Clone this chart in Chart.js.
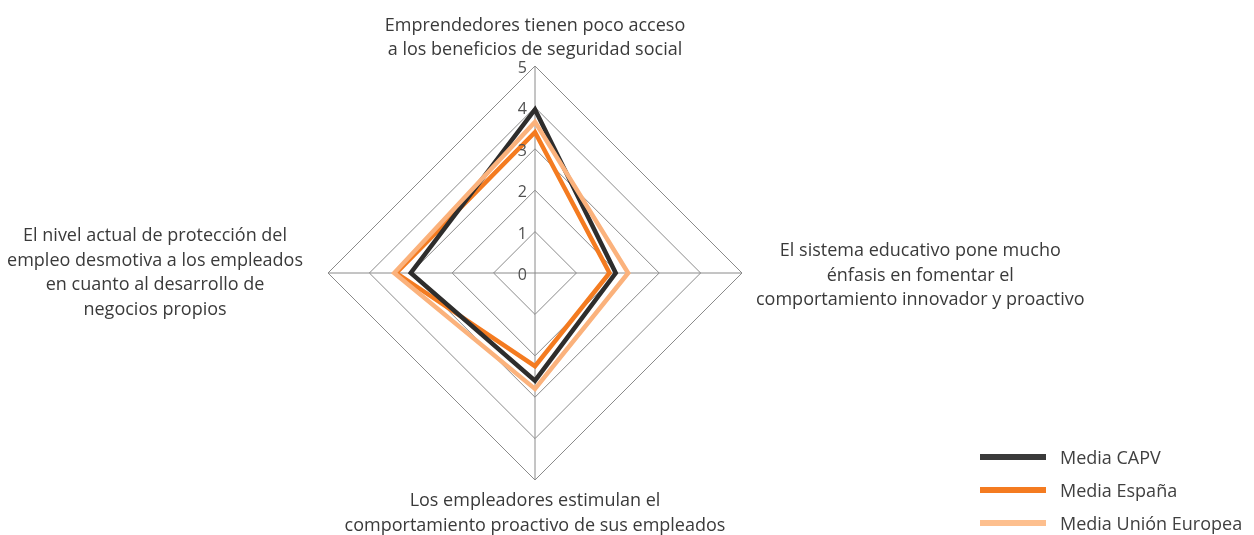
<!DOCTYPE html>
<html>
<head>
<meta charset="utf-8">
<script src="https://cdn.jsdelivr.net/npm/chart.js@4.4.1/dist/chart.umd.min.js"></script>
<style>
  html, body { margin: 0; padding: 0; background: #ffffff; }
  #wrap { position: relative; width: 1254px; height: 535px; overflow: hidden; }
  #chart { position: absolute; left: 0; top: 0; }
  #legend { position: absolute; left: 980px; top: 440px; font-family: 'Open Sans', sans-serif; font-size: 18px; color: #404040; }
  .item { position: relative; height: 33px; display: flex; align-items: center; white-space: nowrap; }
  .sw { width: 66px; height: 6px; margin-right: 14px; }
</style>
</head>
<body>
<div id="wrap">
  <canvas id="chart" width="1254" height="535"></canvas>
  <div id="legend"></div>
</div>
<script>
// ---- data ----
const axisLabels = [
  ["Emprendedores tienen poco acceso", "a los beneficios de seguridad social"],
  ["El sistema educativo pone mucho", "énfasis en fomentar el", "comportamiento innovador y proactivo"],
  ["Los empleadores estimulan el", "comportamiento proactivo de sus empleados"],
  ["El nivel actual de protección del", "empleo desmotiva a los empleados", "en cuanto al desarrollo de", "negocios propios"]
];
const seriesNames = ["Media CAPV", "Media España", "Media Unión Europea"];
const mediaCAPV   = [3.95, 1.95, 2.6, 3.0];
const mediaEspana = [3.4, 1.8, 2.25, 3.35];
const mediaUE     = [3.65, 2.25, 2.8, 3.4];
const scaleMin = 0;
const scaleMax = 5;
const scaleStep = 1;

// ---- styles ----
const colors = ["#2e2d2c", "#f47b20", "#fbb27c"];
const legendColors = ["#3a3a3a", "#f47b20", "#fdbf8e"];
const FONT = "18px 'Open Sans', sans-serif";
const TICK_FONT = "16px 'Open Sans', sans-serif";
const TEXT_COLOR = "#3a3a3a";
const TICK_COLOR = "#505050";
const GRID_COLOR = "#8a8a8a";
const LINE_H = 24.5;

const labelLayout = [
  { pad: 11 },   // top: baseline of last line
  { pad: 14, dy: 7.5 },  // right: left edge of block
  { pad: 26 },  // bottom: baseline of first line
  { pad: 25, dy: 5 }    // left: right edge of block
];

const customLabels = {
  id: 'customLabels',
  afterDraw(chart) {
    const s = chart.scales.r;
    const ctx = chart.ctx;
    ctx.save();
    // ticks
    ctx.font = TICK_FONT;
    ctx.fillStyle = TICK_COLOR;
    ctx.textAlign = 'right';
    ctx.textBaseline = 'middle';
    s.ticks.forEach(t => {
      const d = s.getDistanceFromCenterForValue(t.value);
      ctx.fillText(String(t.value), s.xCenter - 8, s.yCenter - d + 2.5);
    });
    // axis labels
    ctx.font = FONT;
    ctx.fillStyle = TEXT_COLOR;
    ctx.textAlign = 'center';
    ctx.textBaseline = 'alphabetic';
    axisLabels.forEach((lines, i) => {
      const L = labelLayout[i];
      const p = s.getPointPosition(i, s.drawingArea + L.pad);
      const w = Math.max(...lines.map(l => ctx.measureText(l).width));
      const n = lines.length;
      let cx, y0;
      if (i === 0) { cx = p.x; y0 = p.y - (n - 1) * LINE_H; }
      else if (i === 2) { cx = p.x; y0 = p.y; }
      else if (i === 1) { cx = p.x + w / 2; y0 = p.y + L.dy - (n - 1) * LINE_H / 2; }
      else { cx = p.x - w / 2; y0 = p.y + L.dy - (n - 1) * LINE_H / 2; }
      lines.forEach((line, k) => ctx.fillText(line, cx, y0 + k * LINE_H));
    });
    ctx.restore();
  }
};

const seriesData = [mediaCAPV, mediaEspana, mediaUE];
const drawOrder = [1, 2, 0];

new Chart(document.getElementById('chart'), {
  type: 'radar',
  data: {
    labels: axisLabels,
    datasets: seriesData.map((d, i) => ({
      label: seriesNames[i],
      data: d,
      borderColor: colors[i],
      backgroundColor: 'transparent',
      borderWidth: 4.5,
      borderJoinStyle: 'miter',
      pointRadius: 0,
      pointHoverRadius: 0,
      fill: false,
      tension: 0,
      order: drawOrder[i]
    }))
  },
  options: {
    responsive: false,
    animation: false,
    events: [],
    layout: { padding: { top: 66, bottom: 54, left: 0, right: 184 } },
    plugins: { legend: { display: false }, tooltip: { enabled: false } },
    scales: {
      r: {
        min: scaleMin,
        max: scaleMax,
        ticks: { stepSize: scaleStep, display: false },
        pointLabels: { display: false },
        grid: { circular: false, color: GRID_COLOR, lineWidth: 1 },
        angleLines: { display: true, color: GRID_COLOR, lineWidth: 1 }
      }
    }
  },
  plugins: [customLabels]
});

// HTML legend
const lg = document.getElementById('legend');
seriesNames.forEach((name, i) => {
  const it = document.createElement('div');
  it.className = 'item';
  const sw = document.createElement('div');
  sw.className = 'sw';
  sw.style.background = legendColors[i];
  const tx = document.createElement('span');
  tx.textContent = name;
  it.appendChild(sw); it.appendChild(tx);
  lg.appendChild(it);
});
</script>
</body>
</html>
